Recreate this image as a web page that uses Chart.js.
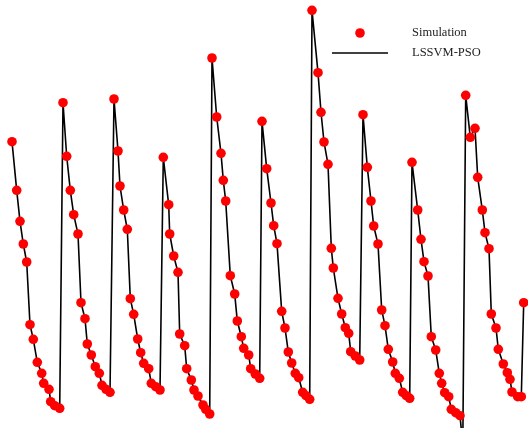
<!DOCTYPE html>
<html>
<head>
<meta charset="utf-8">
<script src="https://cdn.jsdelivr.net/npm/chart.js@4/dist/chart.umd.min.js"></script>
<style>
  html, body { margin: 0; padding: 0; background: #fff; }
  #wrap { width: 528px; height: 428px; position: relative; }
</style>
</head>
<body>
<div id="wrap"><canvas id="cycleChart"></canvas></div>
<script>
// Sample times and simulated values, cycle by cycle
const simTime = [
  0.00, 0.47, 0.80, 1.13, 1.47, 1.80, 2.13, 2.53, 2.97, 3.17, 3.70, 3.87, 4.27, 4.77,
  5.10, 5.47, 5.83, 6.17, 6.60, 6.90, 7.30, 7.53, 7.93, 8.33, 8.73, 9.00, 9.40, 9.80,
  10.20, 10.60, 10.80, 11.17, 11.53, 11.83, 12.17, 12.57, 12.87, 13.17, 13.67, 13.93, 14.37, 14.80,
  15.13, 15.67, 15.77, 16.17, 16.60, 16.77, 17.27, 17.47, 17.93, 18.20, 18.60, 19.10, 19.37, 19.77,
  20.00, 20.47, 20.90, 21.13, 21.37, 21.83, 22.27, 22.53, 22.93, 23.17, 23.67, 23.87, 24.33, 24.77,
  25.00, 25.47, 25.90, 26.17, 26.50, 26.97, 27.30, 27.63, 27.97, 28.33, 28.67, 29.07, 29.40, 29.77,
  30.00, 30.60, 30.90, 31.20, 31.60, 31.93, 32.13, 32.60, 32.97, 33.33, 33.67, 33.87, 34.33, 34.77,
  35.10, 35.53, 35.90, 36.17, 36.60, 36.97, 37.30, 37.63, 38.07, 38.33, 38.73, 39.07, 39.43, 39.77,
  40.00, 40.57, 40.90, 41.20, 41.60, 41.93, 42.37, 42.73, 42.97, 43.27, 43.67, 43.93, 44.37, 44.80,
  45.37, 45.83, 46.30, 46.57, 47.03, 47.30, 47.70, 47.93, 48.40, 48.63, 49.13, 49.53, 49.80, 50.00, 50.57, 50.93,
  51.17
];
const simValues = [
  28.63, 23.77, 20.67, 18.40, 16.60, 10.33, 8.87, 6.57, 5.47, 4.47, 3.87, 2.63, 2.23, 1.97,
  32.53, 27.17, 23.77, 21.33, 19.40, 12.53, 10.93, 8.40, 7.30, 6.13, 5.47, 4.27, 3.87, 3.57,
  32.90, 27.70, 24.20, 21.80, 19.87, 12.93, 11.37, 8.90, 7.53, 6.47, 5.93, 4.47, 4.13, 3.80,
  27.07, 22.33, 19.40, 17.20, 15.57, 9.40, 8.23, 5.93, 4.80, 3.80, 3.20, 2.30, 1.87, 1.40,
  37.00, 31.10, 27.47, 24.77, 22.70, 15.23, 13.40, 10.70, 9.13, 7.97, 7.30, 5.93, 5.40, 4.97,
  30.67, 25.93, 22.50, 20.23, 18.43, 11.67, 10.00, 7.60, 6.50, 5.47, 5.03, 3.57, 3.23, 2.87,
  41.77, 35.53, 31.57, 28.60, 26.37, 17.97, 16.00, 12.97, 11.40, 10.03, 9.47, 7.63, 7.20, 6.80,
  31.33, 26.07, 22.70, 20.20, 18.40, 11.80, 10.23, 7.87, 6.60, 5.47, 4.97, 3.57, 3.23, 2.97,
  26.57, 21.80, 18.87, 16.63, 15.20, 9.13, 7.80, 5.47, 4.47, 3.53, 3.13, 1.87, 1.53, 1.23,
  33.27, 29.07, 29.97, 25.07, 21.80, 19.53, 17.93, 11.40, 10.00, 7.87, 6.40, 5.53, 4.87, 3.60, 3.13, 3.13,
  12.53
];
// Where the LSSVM-PSO prediction departs from the simulation
const predExtraTime = [45.08];
const predExtraValues = [-1.70];

const simPoints = simTime.map((t, i) => ({ x: t, y: simValues[i] }));
const predPoints = simPoints
  .concat(predExtraTime.map((t, i) => ({ x: t, y: predExtraValues[i] })))
  .sort((a, b) => a.x - b.x);

// Small legend in the top right, drawn like the original figure
const cornerLegend = {
  id: "cornerLegend",
  afterDraw(chart) {
    const c = chart.ctx;
    c.save();
    c.fillStyle = "#ff0000";
    c.beginPath();
    c.arc(360, 33, 4.8, 0, Math.PI * 2);
    c.fill();
    c.strokeStyle = "#000";
    c.lineWidth = 1.6;
    c.beginPath();
    c.moveTo(332, 53);
    c.lineTo(388, 53);
    c.stroke();
    c.fillStyle = "#222";
    c.font = "12.5px 'Liberation Serif', 'Times New Roman', serif";
    c.textBaseline = "middle";
    c.fillText("Simulation", 412, 33);
    c.fillText("LSSVM-PSO", 412, 53);
    c.restore();
  },
};

new Chart(document.getElementById("cycleChart"), {
  type: "scatter",
  data: {
    datasets: [
      {
        label: "Simulation",
        data: simPoints,
        pointRadius: 4.8,
        pointHoverRadius: 4.8,
        pointBackgroundColor: "#ff0000",
        pointBorderWidth: 0,
        showLine: false,
        clip: false,
      },
      {
        label: "LSSVM-PSO",
        data: predPoints,
        showLine: true,
        borderColor: "#000",
        borderWidth: 1.6,
        pointRadius: 0,
        tension: 0,
      },
    ],
  },
  options: {
    responsive: true,
    maintainAspectRatio: false,
    animation: false,
    layout: { padding: 0, autoPadding: false },
    plugins: {
      legend: { display: false },
      tooltip: { enabled: false },
    },
    scales: {
      x: { type: "linear", display: false, min: -1.2, max: 51.6 },
      y: { type: "linear", display: false, min: 0, max: 42.8 },
    },
  },
  plugins: [cornerLegend],
});
</script>
</body>
</html>
